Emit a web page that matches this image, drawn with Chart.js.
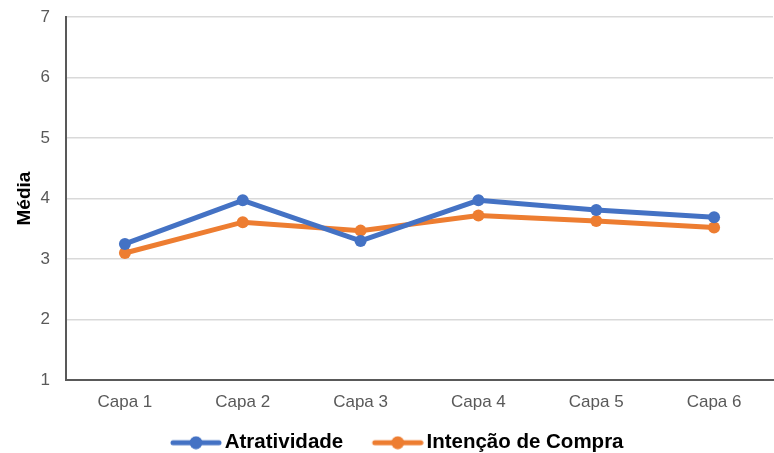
<!DOCTYPE html>
<html>
<head>
<meta charset="utf-8">
<script src="https://cdn.jsdelivr.net/npm/chart.js@4"></script>
<style>
  html, body { margin: 0; padding: 0; background: #fff; }
  #wrap { width: 774px; height: 453px; }
</style>
</head>
<body>
<div id="wrap"><canvas id="mediaChart" width="774" height="453"></canvas></div>
<script>
(function capas () {
    'use strict';

    var categories = ['Capa 1', 'Capa 2', 'Capa 3', 'Capa 4', 'Capa 5', 'Capa 6'];
    var atratividade = [3.25, 3.97, 3.30, 3.97, 3.81, 3.69];
    var intencaoCompra = [3.10, 3.61, 3.47, 3.72, 3.63, 3.52];
    var seriesNames = ['Atratividade', 'Intenção de Compra'];
    var seriesColors = ['#4472C4', '#ED7D31'];

    var fontFamily = "'Liberation Sans', Arial, sans-serif";

    // legend marker: line with a dot, drawn in the right part of a wide box
    // so the empty left part acts as the gap between legend items
    function legendMarker (color) {
        var c = document.createElement('canvas');
        c.width = 80;
        c.height = 14;
        var g = c.getContext('2d');
        g.strokeStyle = color;
        g.lineWidth = 5;
        g.lineCap = 'round';
        g.beginPath();
        g.moveTo(31, 7);
        g.lineTo(77, 7);
        g.stroke();
        g.fillStyle = color;
        g.beginPath();
        g.arc(54, 7, 6.5, 0, Math.PI * 2);
        g.fill();
        return c;
    }

    var markers = seriesColors.map(legendMarker);

    function makeSeries (label, values, color) {
        return {
            label: label,
            data: values,
            borderColor: color,
            backgroundColor: color,
            borderWidth: 5,
            pointRadius: 6,
            pointHoverRadius: 6,
            pointBorderWidth: 0,
            tension: 0
        };
    }

    var ctx = document.getElementById('mediaChart').getContext('2d');

    new Chart(ctx, {
        type: 'line',
        data: {
            labels: categories,
            datasets: [
                makeSeries(seriesNames[0], atratividade, seriesColors[0]),
                makeSeries(seriesNames[1], intencaoCompra, seriesColors[1])
            ]
        },
        options: {
            responsive: false,
            animation: false,
            layout: {
                autoPadding: false,
                padding: { left: 0, right: 1, top: 17, bottom: -10 }
            },
            scales: {
                x: {
                    offset: true,
                    grid: { display: false, drawTicks: false },
                    border: { color: '#595959', width: 2 },
                    ticks: {
                        color: '#595959',
                        padding: 12,
                        font: { family: fontFamily, size: 17 }
                    },
                    afterFit: function (scale) {
                        scale.paddingLeft = 0;
                        scale.paddingRight = 0;
                    }
                },
                y: {
                    min: 1,
                    max: 7,
                    grid: { color: '#d9d9d9', lineWidth: 1.5, drawTicks: false },
                    border: { color: '#595959', width: 2 },
                    ticks: {
                        stepSize: 1,
                        color: '#595959',
                        padding: 16,
                        font: { family: fontFamily, size: 17 }
                    },
                    title: {
                        display: true,
                        text: 'Média',
                        color: '#000',
                        padding: { top: 13, bottom: 0 },
                        font: { family: fontFamily, size: 19, weight: 'bold' }
                    },
                    afterFit: function (scale) {
                        scale.width = 66;
                        scale.paddingTop = 0;
                        scale.paddingBottom = 0;
                    }
                }
            },
            plugins: {
                tooltip: { enabled: false },
                legend: {
                    position: 'bottom',
                    labels: {
                        usePointStyle: true,
                        pointStyleWidth: 65,
                        padding: 8,
                        color: '#000',
                        font: { family: fontFamily, size: 20.5, weight: 'bold' },
                        generateLabels: function (chart) {
                            var items = Chart.defaults.plugins.legend.labels.generateLabels(chart);
                            items.forEach(function (item, i) {
                                item.pointStyle = markers[i];
                            });
                            return items;
                        }
                    }
                }
            }
        }
    });
}());
</script>
</body>
</html>
